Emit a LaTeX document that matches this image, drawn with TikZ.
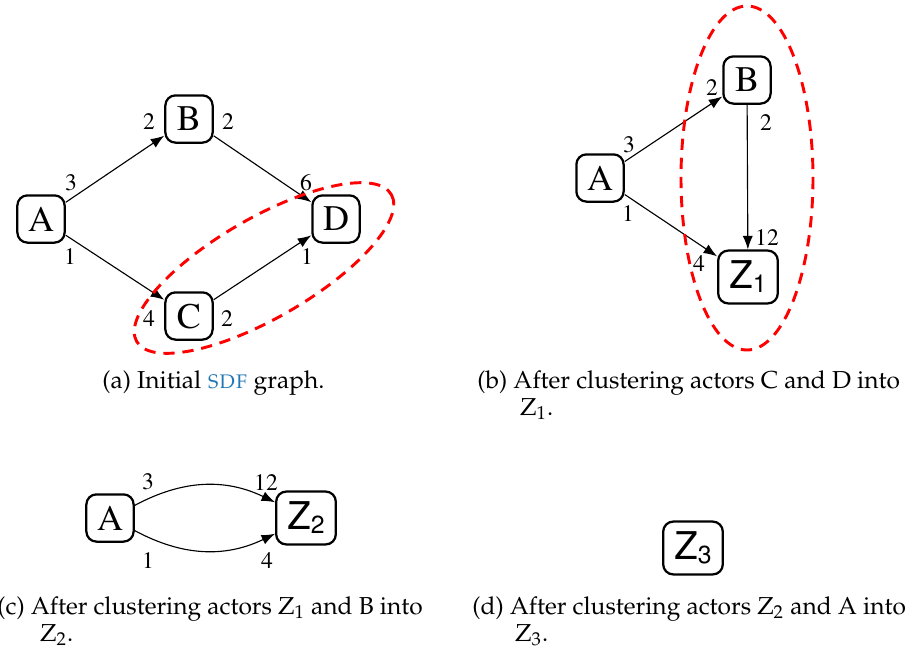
\documentclass[tikz,border=0pt]{standalone}
\usepackage[T1]{fontenc}
\usepackage{mathpazo}
\usetikzlibrary{arrows.meta}

\definecolor{acrblue}{RGB}{31,119,180}
\newcommand{\grfont}{\fontfamily{ptm}\selectfont}
\newcommand{\zfont}{\fontfamily{phv}\selectfont}
\newcommand{\zname}[1]{Z\raisebox{-1.5pt}{\fontsize{11}{11}\selectfont #1}}

\tikzset{
  actor/.style={draw, line width=1pt, rounded corners=4.5pt, minimum width=21pt,
    minimum height=21pt, inner sep=2pt, font={\grfont\fontsize{16}{19}\selectfont}},
  zactor/.style={actor, inner xsep=5pt, minimum height=23.5pt,
    font={\zfont\fontsize{17}{20}\selectfont}},
  rate/.style={inner sep=0pt, font={\grfont\fontsize{10.5}{12}\selectfont}},
  channel/.style={-{Latex[length=6pt,width=4.5pt]}, line width=0.5pt},
  cluster/.style={red, line width=1.3pt, dash pattern=on 5pt off 3.5pt},
  subcap/.style={inner sep=0pt, anchor=base west, align=left,
    font={\fontsize{10.9}{12}\selectfont}}
}

\begin{document}
\begin{tikzpicture}[x=0.4444pt, y=-0.4444pt]
    \useasboundingbox (0,0) rectangle (913,657);

    % (a) initial graph
    \node[actor] (aA) at (41,219) {A};
    \node[actor] (aB) at (189,119) {B};
    \node[actor] (aC) at (189,316) {C};
    \node[actor] (aD) at (336,219) {D};
    \draw[channel] (aA) -- (aB);
    \draw[channel] (aA) -- (aC);
    \draw[channel] (aB) -- (aD);
    \draw[channel] (aC) -- (aD);
    \node[rate] (aAB) at (71,183) {3};
    \node[rate] (aAC) at (70,256) {1};
    \node[rate] (aBin) at (149,121) {2};
    \node[rate] (aBout) at (228,121) {2};
    \node[rate] (aDin) at (306,183) {6};
    \node[rate] (aDin2) at (307,256) {1};
    \node[rate] (aCin) at (149,318) {4};
    \node[rate] (aCout) at (227,318) {2};
    \draw[cluster, rotate around={30:(264,268)}] (264,268) ellipse [x radius=147, y radius=50];
    \node[subcap] (capa) at (102,388) {(a) Initial \textcolor{acrblue}{\textsc{sdf}} graph.};

    % (b) C and D clustered
    \node[actor] (bA) at (600,178) {A};
    \node[actor] (bB) at (747,80) {B};
    \node[zactor] (bZ) at (748,277) {\zname{1}};
    \draw[channel] (bA) -- (bB);
    \draw[channel] (bA) -- (bZ);
    \draw[channel] (bB) -- (bZ);
    \node[rate] (bAB) at (629,145) {3};
    \node[rate] (bAZ) at (628,213) {1};
    \node[rate] (bBin) at (712,87) {2};
    \node[rate] (bBout) at (766,122) {2};
    \node[rate] (bZin) at (767,237) {12};
    \node[rate] (bZin2) at (699,263) {4};
    \draw[cluster] (747,178) ellipse [x radius=66, y radius=172];
    \node[subcap] (capb) at (477,415) {(b) After clustering actors C and D into\\\hspace*{19pt}$\mathrm{Z}_1$.};

    % (c) Z1 and B clustered
    \node[actor] (cA) at (110,518) {A};
    \node[zactor] (cZ) at (306,518) {\zname{2}};
    \draw[channel] (cA) to[bend left=27] (cZ);
    \draw[channel] (cA) to[bend right=27] (cZ);
    \node[rate] (cAtop) at (148,482) {3};
    \node[rate] (cZtop) at (266,482) {12};
    \node[rate] (cAbot) at (148,560) {1};
    \node[rate] (cZbot) at (267,560) {4};
    \node[subcap] (capc) at (-3,641) {(c) After clustering actors $\mathrm{Z}_1$ and B into\\\hspace*{19pt}$\mathrm{Z}_2$.};

    % (d) Z2 and A clustered
    \node[zactor] (dZ) at (693,548) {\zname{3}};
    \node[subcap] (capd) at (472,641) {(d) After clustering actors $\mathrm{Z}_2$ and A into\\\hspace*{19pt}$\mathrm{Z}_3$.};

\end{tikzpicture}
\end{document}
